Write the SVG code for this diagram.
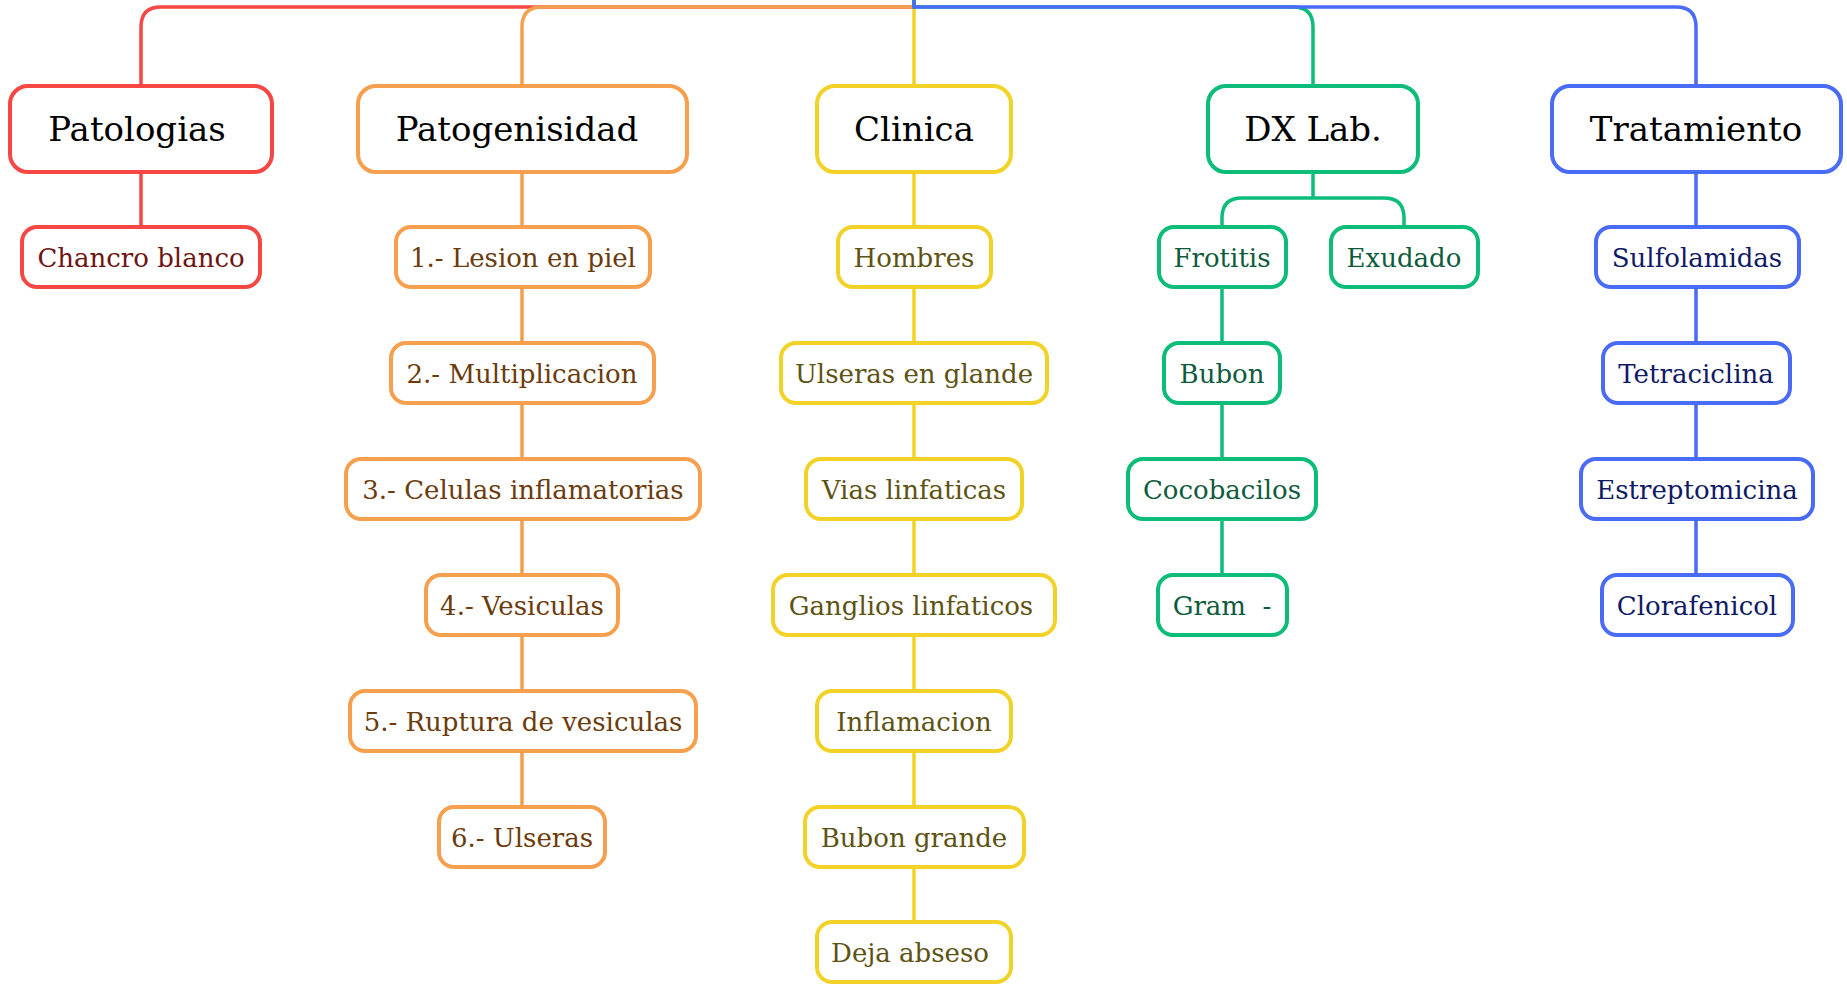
<svg xmlns="http://www.w3.org/2000/svg" width="1847" height="984" viewBox="0 0 1847 984">
<style>
.bg{fill:#ffffff}
.box{fill:#ffffff;stroke-width:4}
.ln{fill:none;stroke-width:3.5}
.main{font-family:"DejaVu Serif","Liberation Serif",serif;font-size:34px;fill:#000000;text-anchor:middle}
.sub{font-family:"DejaVu Serif","Liberation Serif",serif;font-size:26px;text-anchor:middle}
.r{stroke:#F64744}.o{stroke:#F6A04F}.y{stroke:#F3D227}.g{stroke:#0CBD79}.b{stroke:#4A6BF6}
.tr{fill:#6E1412}.to{fill:#6B3B0C}.ty{fill:#5E5212}.tg{fill:#0E5B3C}.tb{fill:#0F1A66}
</style>
<rect class="bg" x="0" y="0" width="1847" height="984"/>
<g id="connectors">
<path class="ln r" d="M914,-20 V7 H161 Q141,7 141,27 V86"/>
<path class="ln o" d="M914,-20 V7 H542 Q522,7 522,27 V86"/>
<path class="ln y" d="M914,-20 V86"/>
<path class="ln g" d="M914,-20 V7 H1293 Q1313,7 1313,27 V86"/>
<path class="ln b" d="M914,-20 V7 H1676 Q1696,7 1696,27 V86"/>
<path class="ln r" d="M141,172 V227"/>
<path class="ln o" d="M522,172 V227 M522,287 V343 M522,403 V459 M522,519 V575 M522,635 V691 M522,751 V807"/>
<path class="ln y" d="M914,172 V227 M914,287 V343 M914,403 V459 M914,519 V575 M914,635 V691 M914,751 V807 M914,867 V922"/>
<path class="ln g" d="M1313,172 V198 H1242 Q1222,198 1222,218 V227 M1313,198 H1384 Q1404,198 1404,218 V227 M1222,287 V343 M1222,403 V459 M1222,519 V575"/>
<path class="ln b" d="M1696,172 V227 M1696,287 V343 M1696,403 V459 M1696,519 V575"/>
</g>
<g id="n-patologias"><rect class="box r" x="10" y="86" width="262" height="86" rx="18"/><text class="main" x="137" y="141">Patologias</text></g>
<g id="n-patogenisidad"><rect class="box o" x="358" y="86" width="329" height="86" rx="18"/><text class="main" x="517" y="141">Patogenisidad</text></g>
<g id="n-clinica"><rect class="box y" x="817" y="86" width="194" height="86" rx="18"/><text class="main" x="914" y="141">Clinica</text></g>
<g id="n-dxlab"><rect class="box g" x="1208" y="86" width="210" height="86" rx="18"/><text class="main" x="1313" y="141">DX Lab.</text></g>
<g id="n-tratamiento"><rect class="box b" x="1552" y="86" width="289" height="86" rx="18"/><text class="main" x="1696" y="141">Tratamiento</text></g>

<g id="n-chancro"><rect class="box r" x="22" y="227" width="238" height="60" rx="15"/><text class="sub tr" x="141" y="267">Chancro blanco</text></g>

<g id="n-p1"><rect class="box o" x="396" y="227" width="254" height="60" rx="15"/><text class="sub to" x="523" y="267">1.- Lesion en piel</text></g>
<g id="n-p2"><rect class="box o" x="391" y="343" width="263" height="60" rx="15"/><text class="sub to" x="522" y="383">2.- Multiplicacion</text></g>
<g id="n-p3"><rect class="box o" x="346" y="459" width="354" height="60" rx="15"/><text class="sub to" x="523" y="499">3.- Celulas inflamatorias</text></g>
<g id="n-p4"><rect class="box o" x="426" y="575" width="192" height="60" rx="15"/><text class="sub to" x="522" y="615">4.- Vesiculas</text></g>
<g id="n-p5"><rect class="box o" x="350" y="691" width="346" height="60" rx="15"/><text class="sub to" x="523" y="731">5.- Ruptura de vesiculas</text></g>
<g id="n-p6"><rect class="box o" x="439" y="807" width="166" height="60" rx="15"/><text class="sub to" x="522" y="847">6.- Ulseras</text></g>

<g id="n-c1"><rect class="box y" x="838" y="227" width="153" height="60" rx="15"/><text class="sub ty" x="914" y="267">Hombres</text></g>
<g id="n-c2"><rect class="box y" x="781" y="343" width="266" height="60" rx="15"/><text class="sub ty" x="914" y="383">Ulseras en glande</text></g>
<g id="n-c3"><rect class="box y" x="806" y="459" width="216" height="60" rx="15"/><text class="sub ty" x="914" y="499">Vias linfaticas</text></g>
<g id="n-c4"><rect class="box y" x="773" y="575" width="282" height="60" rx="15"/><text class="sub ty" x="911" y="615">Ganglios linfaticos</text></g>
<g id="n-c5"><rect class="box y" x="817" y="691" width="194" height="60" rx="15"/><text class="sub ty" x="914" y="731">Inflamacion</text></g>
<g id="n-c6"><rect class="box y" x="805" y="807" width="219" height="60" rx="15"/><text class="sub ty" x="914" y="847">Bubon grande</text></g>
<g id="n-c7"><rect class="box y" x="817" y="922" width="194" height="60" rx="15"/><text class="sub ty" x="910" y="962">Deja abseso</text></g>

<g id="n-d1"><rect class="box g" x="1159" y="227" width="127" height="60" rx="15"/><text class="sub tg" x="1222" y="267">Frotitis</text></g>
<g id="n-d2"><rect class="box g" x="1331" y="227" width="147" height="60" rx="15"/><text class="sub tg" x="1404" y="267">Exudado</text></g>
<g id="n-d3"><rect class="box g" x="1164" y="343" width="116" height="60" rx="15"/><text class="sub tg" x="1222" y="383">Bubon</text></g>
<g id="n-d4"><rect class="box g" x="1128" y="459" width="188" height="60" rx="15"/><text class="sub tg" x="1222" y="499">Cocobacilos</text></g>
<g id="n-d5"><rect class="box g" x="1158" y="575" width="129" height="60" rx="15"/><text class="sub tg" x="1222" y="615" xml:space="preserve">Gram  -</text></g>

<g id="n-t1"><rect class="box b" x="1596" y="227" width="203" height="60" rx="15"/><text class="sub tb" x="1697" y="267">Sulfolamidas</text></g>
<g id="n-t2"><rect class="box b" x="1603" y="343" width="187" height="60" rx="15"/><text class="sub tb" x="1696" y="383">Tetraciclina</text></g>
<g id="n-t3"><rect class="box b" x="1581" y="459" width="232" height="60" rx="15"/><text class="sub tb" x="1697" y="499">Estreptomicina</text></g>
<g id="n-t4"><rect class="box b" x="1602" y="575" width="191" height="60" rx="15"/><text class="sub tb" x="1697" y="615">Clorafenicol</text></g>
</svg>
